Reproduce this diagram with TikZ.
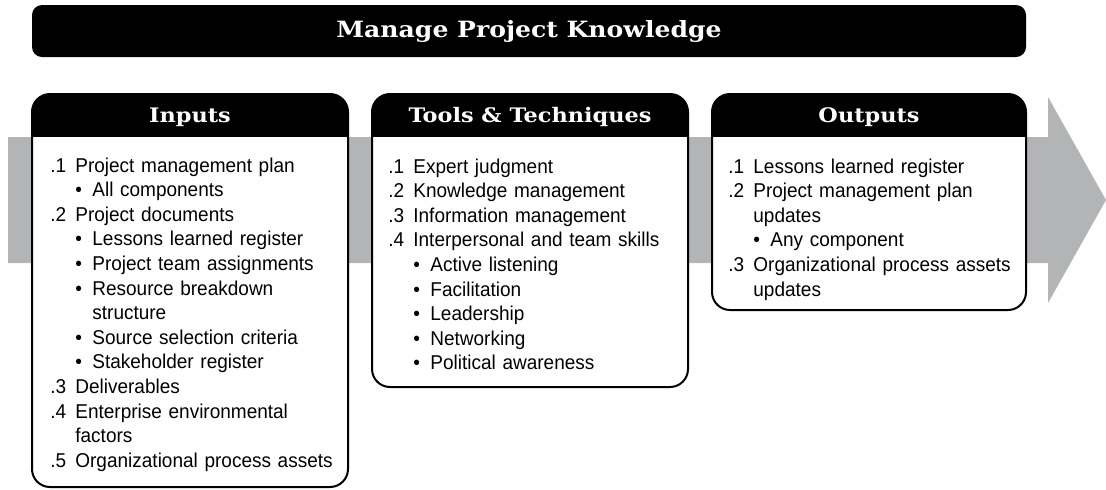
\documentclass[tikz,border=0pt]{standalone}
\usepackage{fontspec}
\newfontfamily\bodyfont{Liberation Sans}[FakeStretch=0.95]
\newfontfamily\slabfont{DejaVu Serif}[FakeStretch=1.12]
\definecolor{flowgray}{RGB}{178,180,182}
% list helpers
\newcommand\itemno[1]{\makebox[12.5pt][l]{#1}}
\newcommand\itembul{\hspace*{12.5pt}\makebox[8.5pt][l]{\textbullet}}
\newcommand\itemcont{\hspace*{21pt}}
\newcommand\itemwrap{\hspace*{12.5pt}}
\begin{document}
\begin{tikzpicture}[x=0.5pt, y=-0.5pt,
    boxline/.style={line width=1pt, rounded corners=9pt},
    headtext/.style={text=white, font=\slabfont\bfseries\fontsize{10}{12}\selectfont},
    listtext/.style={anchor=base west, inner sep=0pt, text width=150pt, align=left,
        font=\bodyfont\fontsize{10}{12.3}\selectfont}]
        \useasboundingbox (0,0) rectangle (1106,489);
        % grey flow arrow behind the boxes
        \fill[flowgray] (8,137) -- (1048,137) -- (1048,97) -- (1106,200) -- (1048,303)
            -- (1048,263) -- (8,263) -- cycle;

        % title bar
        \fill[rounded corners=5pt] (32,5) rectangle (1026,57);
        \node[text=white, font=\slabfont\bfseries\fontsize{11.2}{13}\selectfont] (title) at (529,31)
            {Manage Project Knowledge};

        % the three boxes
        \foreach \l/\r/\b in {32/348/487, 372/688/387, 712/1026/310} {
        \fill[white, boxline] (\l,94) rectangle (\r,\b);
        \begin{scope}
        \clip[rounded corners=9pt] (\l,94) rectangle (\r,\b);
        \fill (\l,94) rectangle (\r,137);
        \end{scope}
        \draw[boxline] (\l,94) rectangle (\r,\b);
        }

        \node[headtext] (inputs) at (190,117) {Inputs};
        \node[headtext] (tools) at (530,117) {Tools \& Techniques};
        \node[headtext] (outputs) at (869,117) {Outputs};

        \node[listtext] (inlist) at (50,172) {%
            \itemno{.1}Project management plan\\
            \itembul All components\\
            \itemno{.2}Project documents\\
            \itembul Lessons learned register\\
            \itembul Project team assignments\\
            \itembul Resource breakdown\\
            \itemcont structure\\
            \itembul Source selection criteria\\
            \itembul Stakeholder register\\
            \itemno{.3}Deliverables\\
            \itemno{.4}Enterprise environmental\\
            \itemwrap factors\\
            \itemno{.5}Organizational process assets};

        \node[listtext] (toollist) at (388,173) {%
            \itemno{.1}Expert judgment\\
            \itemno{.2}Knowledge management\\
            \itemno{.3}Information management\\
            \itemno{.4}Interpersonal and team skills\\
            \itembul Active listening\\
            \itembul Facilitation\\
            \itembul Leadership\\
            \itembul Networking\\
            \itembul Political awareness};

        \node[listtext] (outlist) at (728,173) {%
            \itemno{.1}Lessons learned register\\
            \itemno{.2}Project management plan\\
            \itemwrap updates\\
            \itembul Any component\\
            \itemno{.3}Organizational process assets\\
            \itemwrap updates};
\end{tikzpicture}
\end{document}
